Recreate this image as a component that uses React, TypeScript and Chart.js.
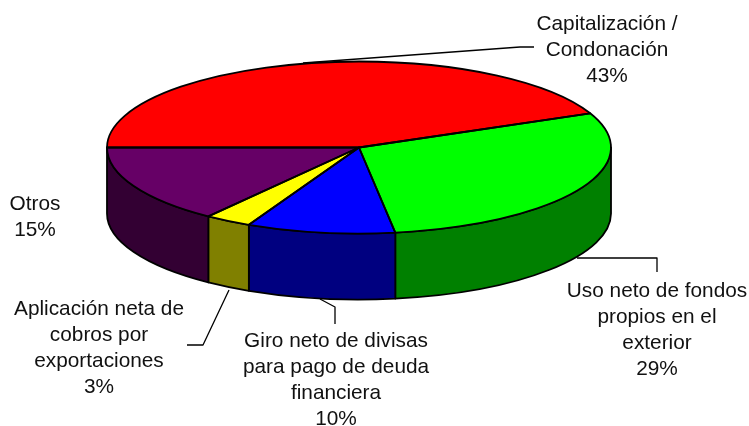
import React, { useEffect, useRef } from "react";
import { Chart, registerables } from "chart.js";

Chart.register(...registerables);

const categories = [
  "Capitalización / Condonación",
  "Uso neto de fondos propios en el exterior",
  "Giro neto de divisas para pago de deuda financiera",
  "Aplicación neta de cobros por exportaciones",
  "Otros",
];
const shares = [43.49, 29.21, 9.5, 3.0, 14.8];
const topColors = ["#ff0000", "#00ff00", "#0000ff", "#ffff00", "#660066"];
const sideColors = ["#800000", "#008000", "#000080", "#808000", "#330033"];
const percentLabels = ["43%", "29%", "10%", "3%", "15%"];

const labelLines = [
  ["Capitalización /", "Condonación"],
  ["Uso neto de fondos", "propios en el", "exterior"],
  ["Giro neto de divisas", "para pago de deuda", "financiera"],
  ["Aplicación neta de", "cobros por", "exportaciones"],
  ["Otros"],
];

// Layout of the drawn pie
const CX = 359;
const CY = 147.5;
const RX = 252;
const RY = 86;
const DEPTH = 66;
const FONT = '20.8px "Liberation Sans", Arial, sans-serif';
const LINE_H = 26.2;
const labelCenters = [
  [607, 24],
  [657, 291],
  [336, 341],
  [99, 309],
  [35, 204],
];
const leaders = [
  [[534, 47], [520, 47], [303, 63]],
  [[577, 258], [657, 258], [657, 272]],
  [[320, 299], [335, 307], [335, 324]],
  [[229, 290], [203, 345], [187, 345]],
];

const pie3d = {
  id: "pie3d",
  beforeDatasetsDraw(chart: any) {
    const ctx = chart.ctx;
    const arcs = chart.getDatasetMeta(0).data;
    ctx.save();
    ctx.lineWidth = 1.8;
    ctx.strokeStyle = "#000";
    ctx.lineJoin = "round";
    arcs.forEach((arc: any, i: number) => {
      const a0 = Math.max(arc.startAngle, 0);
      const a1 = Math.min(arc.endAngle, Math.PI);
      if (a1 <= a0) return;
      ctx.beginPath();
      ctx.ellipse(CX, CY, RX, RY, 0, a0, a1);
      ctx.lineTo(CX + RX * Math.cos(a1), CY + DEPTH + RY * Math.sin(a1));
      ctx.ellipse(CX, CY + DEPTH, RX, RY, 0, a1, a0, true);
      ctx.closePath();
      ctx.fillStyle = sideColors[i];
      ctx.fill();
      ctx.stroke();
    });
    ctx.restore();

    const first = arcs[0];
    const r = first.outerRadius;
    ctx.save();
    ctx.translate(CX, CY);
    ctx.scale(RX / r, RY / r);
    ctx.translate(-first.x, -first.y);
  },
  afterDatasetsDraw(chart: any) {
    const ctx = chart.ctx;
    ctx.restore();
    const arcs = chart.getDatasetMeta(0).data;

    ctx.save();
    ctx.lineWidth = 1.8;
    ctx.strokeStyle = "#000";
    ctx.lineJoin = "round";
    arcs.forEach((arc: any) => {
      ctx.beginPath();
      ctx.moveTo(CX, CY);
      ctx.ellipse(CX, CY, RX, RY, 0, arc.startAngle, arc.endAngle);
      ctx.closePath();
      ctx.stroke();
    });

    ctx.lineWidth = 1.3;
    leaders.forEach((pts) => {
      ctx.beginPath();
      pts.forEach(([x, y], k) => (k ? ctx.lineTo(x, y) : ctx.moveTo(x, y)));
      ctx.stroke();
    });

    ctx.font = FONT;
    ctx.fillStyle = "#111";
    ctx.textAlign = "center";
    ctx.textBaseline = "middle";
    labelLines.forEach((lines, i) => {
      const [x, y] = labelCenters[i];
      [...lines, percentLabels[i]].forEach((t, k) => {
        ctx.fillText(t, x, y + k * LINE_H);
      });
    });
    ctx.restore();
  },
};

export default function App() {
  const ref = useRef<HTMLCanvasElement | null>(null);
  useEffect(() => {
    const chart = new Chart(ref.current as HTMLCanvasElement, {
      type: "pie",
      data: {
        labels: categories,
        datasets: [{ data: shares, backgroundColor: topColors, borderWidth: 0 }],
      },
      options: {
        responsive: false,
        animation: false,
        rotation: -90,
        events: [],
        plugins: { legend: { display: false }, tooltip: { enabled: false } },
      },
      plugins: [pie3d],
    } as any);
    return () => chart.destroy();
  }, []);
  return (
    <div style={{ position: "fixed", left: 0, top: 0, width: 749, height: 426, background: "#fff" }}>
      <canvas ref={ref} width={749} height={426} style={{ display: "block" }} />
    </div>
  );
}
